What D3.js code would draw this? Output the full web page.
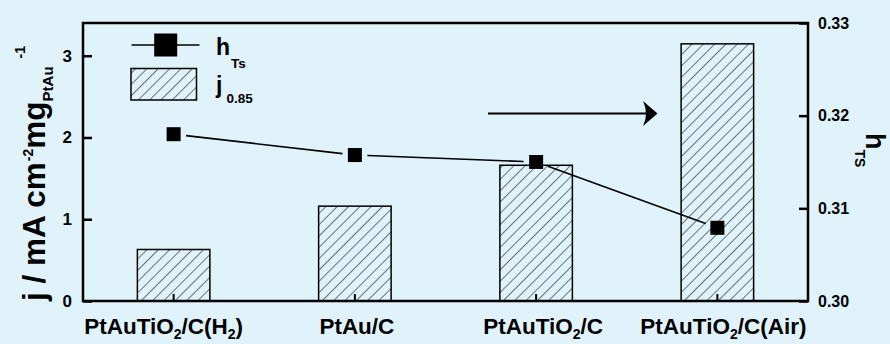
<!DOCTYPE html>
<html>
<head>
<meta charset="utf-8">
<script src="https://cdn.jsdelivr.net/npm/d3@7"></script>
<style>
  html, body { margin: 0; padding: 0; background: #e0f3fb; }
  svg { display: block; font-family: "Liberation Sans", Arial, sans-serif; font-weight: bold; }
</style>
</head>
<body>
<svg id="chart" width="890" height="344"></svg>
<script>
// ---- data ----
const categories = ["PtAuTiO2/C(H2)", "PtAu/C", "PtAuTiO2/C", "PtAuTiO2/C(Air)"];
const j085 = [0.63, 1.16, 1.66, 3.145];
const hTs = [0.3180, 0.31575, 0.3150, 0.3079];
const leftTicks = [0, 1, 2, 3];
const rightTicks = [0.30, 0.31, 0.32, 0.33];

// ---- layout ----
const W = 890, H = 344;
const m = { left: 83, right: 808, top: 23, bottom: 301 };
const bg = "#e0f3fb";

const svg = d3.select("#chart");
svg.append("rect").attr("width", W).attr("height", H).attr("fill", bg);

const defs = svg.append("defs");
const pat = defs.append("pattern")
  .attr("id", "hatch").attr("patternUnits", "userSpaceOnUse")
  .attr("width", 8).attr("height", 8)
  .attr("patternTransform", "rotate(45)");
pat.append("rect").attr("width", 8).attr("height", 8).attr("fill", bg);
pat.append("line").attr("x1", 0).attr("y1", 0).attr("x2", 0).attr("y2", 8)
  .attr("stroke", "#1a1a1a").attr("stroke-width", 1.2);

const x = d3.scaleBand().domain(categories).range([m.left, m.right]).padding(0);
const yL = d3.scaleLinear().domain([0, 3.4]).range([m.bottom, m.top]);
const yR = d3.scaleLinear().domain([0.30, 0.33]).range([m.bottom, m.top]);
const barW = x.bandwidth() * 0.4;
const cx = d => x(d) + x.bandwidth() / 2;

// bars
svg.append("g").selectAll("rect").data(categories).join("rect")
  .attr("x", d => cx(d) - barW / 2)
  .attr("y", (d, i) => yL(j085[i]))
  .attr("width", barW)
  .attr("height", (d, i) => yL(0) - yL(j085[i]))
  .attr("fill", "url(#hatch)")
  .attr("stroke", "#000").attr("stroke-width", 1.5);

// axes
const axL = d3.axisLeft(yL).tickValues(leftTicks).tickFormat(d3.format("d"))
  .tickSizeInner(-9).tickSizeOuter(0).tickPadding(11);
const gL = svg.append("g").attr("transform", `translate(${m.left},0)`).call(axL);

const axR = d3.axisRight(yR).tickValues(rightTicks).tickFormat(d3.format(".2f"))
  .tickSizeInner(-9).tickSizeOuter(0).tickPadding(10);
const gR = svg.append("g").attr("transform", `translate(${m.right},0)`).call(axR);

const axB = d3.axisBottom(x).tickSizeInner(-7).tickSizeOuter(0).tickFormat("");
const gB = svg.append("g").attr("transform", `translate(0,${m.bottom})`).call(axB);

[gL, gR, gB].forEach(g => {
  g.select(".domain").remove();
  g.selectAll(".tick line").attr("stroke", "#000").attr("stroke-width", 2.5);
  g.selectAll("text").attr("fill", "#000").attr("font-family", "Liberation Sans, Arial, sans-serif").attr("font-weight", "bold");
});
gB.selectAll(".tick line").attr("stroke-width", 2);
gL.selectAll("text").attr("font-size", 17);
gR.selectAll("text").attr("font-size", 16);

// frame
svg.append("rect").attr("x", m.left).attr("y", m.top)
  .attr("width", m.right - m.left).attr("height", m.bottom - m.top)
  .attr("fill", "none").attr("stroke", "#000").attr("stroke-width", 2.5);

// category labels with subscript digits
const nudge = [-10, 2, 7, 6];
const labG = svg.append("g");
categories.forEach((c, i) => {
  const t = labG.append("text").attr("x", cx(c) + nudge[i]).attr("y", 334)
    .attr("text-anchor", "middle").attr("font-size", 22.5);
  let sub = false;
  c.split(/(\d)/).filter(s => s.length).forEach(s => {
    if (/^\d$/.test(s)) {
      t.append("tspan").attr("font-size", 14).attr("dy", 5).text(s);
      sub = true;
    } else {
      t.append("tspan").attr("dy", sub ? -5 : 0).text(s);
      sub = false;
    }
  });
});

// h_Ts line with gaps around markers
const pts = categories.map((c, i) => [cx(c), yR(hTs[i])]);
const gap = 12.5;
const lineG = svg.append("g");
for (let i = 0; i < pts.length - 1; i++) {
  const [x1, y1] = pts[i], [x2, y2] = pts[i + 1];
  const L = Math.hypot(x2 - x1, y2 - y1), ux = (x2 - x1) / L, uy = (y2 - y1) / L;
  lineG.append("line")
    .attr("x1", x1 + ux * gap).attr("y1", y1 + uy * gap)
    .attr("x2", x2 - ux * gap).attr("y2", y2 - uy * gap)
    .attr("stroke", "#000").attr("stroke-width", 1.6);
}
svg.append("g").selectAll("rect").data(pts).join("rect")
  .attr("x", d => d[0] - 7).attr("y", d => d[1] - 7)
  .attr("width", 14).attr("height", 14).attr("fill", "#000");

// arrow annotation
svg.append("line").attr("x1", 488).attr("y1", 113.5).attr("x2", 648).attr("y2", 113.5)
  .attr("stroke", "#000").attr("stroke-width", 2);
svg.append("path").attr("d", "M657.5,113.5 L643,101 Q649,113.5 643,126 Z").attr("fill", "#000");

// legend
svg.append("line").attr("x1", 131.5).attr("y1", 45).attr("x2", 199.5).attr("y2", 45)
  .attr("stroke", "#000").attr("stroke-width", 1.6);
svg.append("rect").attr("x", 154.2).attr("y", 33.5).attr("width", 23).attr("height", 23).attr("fill", "#000");
svg.append("rect").attr("x", 131).attr("y", 68.5).attr("width", 65.5).attr("height", 31.5)
  .attr("fill", "url(#hatch)").attr("stroke", "#000").attr("stroke-width", 1.5);
const l1 = svg.append("text").attr("x", 216).attr("y", 55).attr("font-size", 23);
l1.append("tspan").text("h");
l1.append("tspan").attr("font-size", 13.5).attr("dy", 12.5).attr("dx", 1).text("Ts");
const l2 = svg.append("text").attr("x", 216).attr("y", 93).attr("font-size", 23);
l2.append("tspan").text("j");
l2.append("tspan").attr("font-size", 13.5).attr("dy", 10).attr("dx", 4).text("0.85");

// left axis title
const yt = svg.append("text").attr("transform", "translate(45,301) rotate(-90)")
  .attr("font-size", 31.5);
yt.append("tspan").text("j / mA cm");
yt.append("tspan").attr("font-size", 14).attr("dy", -12).attr("dx", 1).text("-2");
yt.append("tspan").attr("dy", 12).text("mg");
yt.append("tspan").attr("font-size", 15).attr("dy", 8).text("PtAu");
yt.append("tspan").attr("font-size", 14).attr("dy", -28).attr("dx", 8).text("-1");

// right axis title
const rt = svg.append("text").attr("transform", "translate(866,133) rotate(90)")
  .attr("font-size", 27);
rt.append("tspan").text("h");
rt.append("tspan").attr("font-size", 14).attr("dy", 11).text("TS");
</script>
</body>
</html>
